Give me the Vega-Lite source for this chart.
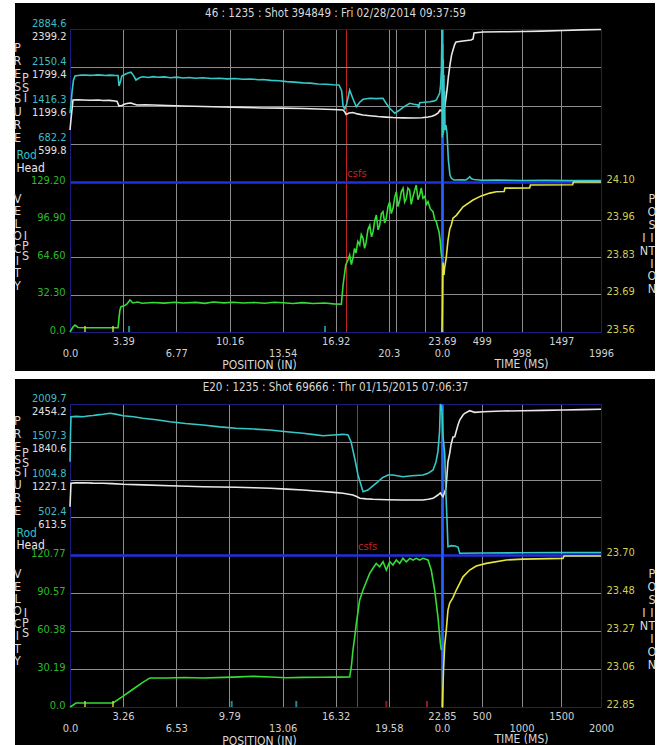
{
  "$schema": "https://vega.github.io/schema/vega-lite/v6.json",
  "background": "white",
  "padding": {"left": 12, "top": 3, "right": 5, "bottom": 0},
  "spacing": 8,
  "config": {
    "view": {"fill": "black", "stroke": null},
    "axis": {"ticks": false, "grid": false, "domain": false, "labels": false,
      "labelFont": "Liberation Sans Narrow, Arial Narrow, DejaVu Sans Condensed, sans-serif", "labelFontSize": 11,
      "labelFlush": false, "labelOverlap": false, "labelBound": false, "labelColor": "#d0d0d0",
      "titleFont": "Liberation Sans Narrow, Arial Narrow, DejaVu Sans Condensed, sans-serif", "titleFontSize": 12,
      "titleFontWeight": "normal", "titleColor": "#d8d8d8", "titleAngle": 0, "titleAlign": "center",
      "titleBaseline": "top", "titlePadding": 0, "gridColor": "#8c8c8c", "gridWidth": 1,
      "domainColor": "#1c1c7e", "domainWidth": 1},
    "text": {"font": "Liberation Sans Narrow, Arial Narrow, DejaVu Sans Condensed, sans-serif"}
  },
  "datasets": {
    "t_head_pos": [{"pos":0,"psi":815},{"pos":0.06,"psi":972},{"pos":0.19,"psi":1286},{"pos":0.5,"psi":1290},{"pos":0.83,"psi":1286},{"pos":1.3,"psi":1282},{"pos":1.8,"psi":1286},{"pos":2.1,"psi":1278},{"pos":2.5,"psi":1280},{"pos":2.87,"psi":1270},{"pos":3.0,"psi":1262},{"pos":3.12,"psi":1192},{"pos":3.3,"psi":1200},{"pos":3.5,"psi":1223},{"pos":3.7,"psi":1235},{"pos":3.89,"psi":1239},{"pos":4.05,"psi":1225},{"pos":4.27,"psi":1207},{"pos":4.8,"psi":1212},{"pos":5.29,"psi":1207},{"pos":6.2,"psi":1200},{"pos":7.2,"psi":1192},{"pos":8.5,"psi":1185},{"pos":9.74,"psi":1176},{"pos":11.0,"psi":1170},{"pos":12.29,"psi":1160},{"pos":13.5,"psi":1158},{"pos":14.84,"psi":1153},{"pos":15.8,"psi":1145},{"pos":16.75,"psi":1137},{"pos":17.39,"psi":1129},{"pos":17.5,"psi":1100},{"pos":17.58,"psi":1058},{"pos":17.77,"psi":1082},{"pos":18.02,"psi":1090},{"pos":18.3,"psi":1068},{"pos":18.66,"psi":1051},{"pos":19.1,"psi":1040},{"pos":19.62,"psi":1027},{"pos":20.1,"psi":1018},{"pos":20.57,"psi":1011},{"pos":21.2,"psi":1006},{"pos":21.85,"psi":1004},{"pos":22.4,"psi":1008},{"pos":22.8,"psi":1019},{"pos":23.05,"psi":1030},{"pos":23.25,"psi":1051},{"pos":23.45,"psi":1085},{"pos":23.57,"psi":1129},{"pos":23.69,"psi":1113}],
    "t_rod_pos": [{"pos":0,"psi":1267},{"pos":0.08,"psi":1500},{"pos":0.13,"psi":1675},{"pos":0.22,"psi":1900},{"pos":0.32,"psi":1983},{"pos":0.51,"psi":1992},{"pos":0.75,"psi":2000},{"pos":1.0,"psi":2002},{"pos":1.25,"psi":1994},{"pos":1.5,"psi":1998},{"pos":1.75,"psi":2004},{"pos":2.0,"psi":2000},{"pos":2.25,"psi":1993},{"pos":2.5,"psi":1999},{"pos":2.8,"psi":1994},{"pos":3.06,"psi":1992},{"pos":3.12,"psi":1790},{"pos":3.2,"psi":1860},{"pos":3.3,"psi":1980},{"pos":3.45,"psi":2005},{"pos":3.65,"psi":2035},{"pos":3.88,"psi":2054},{"pos":4.05,"psi":1990},{"pos":4.2,"psi":1906},{"pos":4.35,"psi":1935},{"pos":4.5,"psi":1960},{"pos":4.65,"psi":1969},{"pos":5.0,"psi":1955},{"pos":5.3,"psi":1970},{"pos":5.6,"psi":1958},{"pos":6.0,"psi":1965},{"pos":6.4,"psi":1950},{"pos":6.8,"psi":1960},{"pos":7.2,"psi":1945},{"pos":7.6,"psi":1955},{"pos":8.0,"psi":1940},{"pos":8.47,"psi":1950},{"pos":9.0,"psi":1935},{"pos":9.5,"psi":1940},{"pos":10.0,"psi":1928},{"pos":10.5,"psi":1935},{"pos":11.0,"psi":1920},{"pos":11.5,"psi":1925},{"pos":12.0,"psi":1912},{"pos":12.29,"psi":1915},{"pos":12.8,"psi":1898},{"pos":13.3,"psi":1890},{"pos":13.8,"psi":1875},{"pos":14.3,"psi":1865},{"pos":14.84,"psi":1850},{"pos":15.3,"psi":1845},{"pos":15.8,"psi":1830},{"pos":16.3,"psi":1825},{"pos":16.75,"psi":1815},{"pos":17.13,"psi":1810},{"pos":17.3,"psi":1700},{"pos":17.39,"psi":1400},{"pos":17.5,"psi":1349},{"pos":17.62,"psi":1450},{"pos":17.81,"psi":1714},{"pos":18.0,"psi":1560},{"pos":18.23,"psi":1393},{"pos":18.45,"psi":1480},{"pos":18.66,"psi":1535},{"pos":19.09,"psi":1555},{"pos":19.5,"psi":1548},{"pos":19.93,"psi":1555},{"pos":20.15,"psi":1450},{"pos":20.36,"psi":1363},{"pos":20.68,"psi":1267},{"pos":20.95,"psi":1320},{"pos":21.21,"psi":1382},{"pos":21.63,"psi":1459},{"pos":21.9,"psi":1440},{"pos":22.16,"psi":1426},{"pos":22.2,"psi":1368},{"pos":22.27,"psi":1470},{"pos":22.6,"psi":1480},{"pos":22.91,"psi":1489},{"pos":23.15,"psi":1500},{"pos":23.33,"psi":1522},{"pos":23.54,"psi":1650},{"pos":23.6,"psi":1800},{"pos":23.65,"psi":2098},{"pos":23.69,"psi":2866}],
    "t_head_time": [{"ms":0,"psi":1113},{"ms":25,"psi":1129},{"ms":38,"psi":1207},{"ms":50,"psi":1320},{"ms":63,"psi":1443},{"ms":80,"psi":1650},{"ms":100,"psi":1835},{"ms":120,"psi":1990},{"ms":138,"psi":2070},{"ms":160,"psi":2160},{"ms":176,"psi":2195},{"ms":264,"psi":2211},{"ms":364,"psi":2227},{"ms":390,"psi":2242},{"ms":402,"psi":2336},{"ms":515,"psi":2352},{"ms":750,"psi":2355},{"ms":1017,"psi":2360},{"ms":1250,"psi":2366},{"ms":1519,"psi":2376},{"ms":1750,"psi":2385},{"ms":1996,"psi":2391}],
    "t_rod_time": [{"ms":0,"psi":2866},{"ms":4,"psi":800},{"ms":8,"psi":2600},{"ms":12,"psi":850},{"ms":16,"psi":2300},{"ms":20,"psi":900},{"ms":24,"psi":2000},{"ms":28,"psi":950},{"ms":33,"psi":1700},{"ms":38,"psi":946},{"ms":50,"psi":1042},{"ms":63,"psi":889},{"ms":80,"psi":370},{"ms":100,"psi":82},{"ms":117,"psi":19},{"ms":150,"psi":-13},{"ms":250,"psi":-10},{"ms":300,"psi":-13},{"ms":330,"psi":20},{"ms":348,"psi":50},{"ms":370,"psi":10},{"ms":400,"psi":-4},{"ms":500,"psi":-19},{"ms":700,"psi":-15},{"ms":1000,"psi":-23},{"ms":1300,"psi":-20},{"ms":1600,"psi":-25},{"ms":1996,"psi":-23}],
    "t_vel": [{"pos":0,"ips":0},{"pos":0.19,"ips":4.3},{"pos":0.32,"ips":6.0},{"pos":0.51,"ips":3.9},{"pos":1.0,"ips":3.7},{"pos":2.0,"ips":3.7},{"pos":3.06,"ips":3.7},{"pos":3.12,"ips":12},{"pos":3.18,"ips":19},{"pos":3.25,"ips":21.8},{"pos":3.45,"ips":22.5},{"pos":3.63,"ips":24.1},{"pos":3.82,"ips":27.6},{"pos":4.01,"ips":25},{"pos":4.3,"ips":25.8},{"pos":4.6,"ips":24.8},{"pos":5.29,"ips":25.4},{"pos":6.0,"ips":24.9},{"pos":6.7,"ips":25.6},{"pos":7.2,"ips":25.0},{"pos":8.0,"ips":25.5},{"pos":8.6,"ips":24.7},{"pos":9.11,"ips":25.8},{"pos":9.8,"ips":25.1},{"pos":10.4,"ips":25.6},{"pos":11.02,"ips":25.0},{"pos":11.7,"ips":25.4},{"pos":12.4,"ips":24.8},{"pos":13.0,"ips":25.6},{"pos":13.56,"ips":25.2},{"pos":14.2,"ips":24.6},{"pos":14.8,"ips":25.3},{"pos":15.48,"ips":24.5},{"pos":16.2,"ips":25.0},{"pos":16.8,"ips":24.2},{"pos":17.28,"ips":23.9},{"pos":17.39,"ips":40.5},{"pos":17.56,"ips":57.7},{"pos":17.7,"ips":62},{"pos":17.81,"ips":66.3},{"pos":17.92,"ips":58},{"pos":18.02,"ips":63.7},{"pos":18.12,"ips":72},{"pos":18.21,"ips":68},{"pos":18.33,"ips":78},{"pos":18.45,"ips":74.9},{"pos":18.55,"ips":84},{"pos":18.66,"ips":80.7},{"pos":18.76,"ips":72},{"pos":18.85,"ips":76.7},{"pos":18.97,"ips":88},{"pos":19.09,"ips":92},{"pos":19.2,"ips":82},{"pos":19.3,"ips":86.4},{"pos":19.41,"ips":96},{"pos":19.51,"ips":100.8},{"pos":19.62,"ips":88},{"pos":19.72,"ips":92},{"pos":19.83,"ips":102},{"pos":19.93,"ips":103.6},{"pos":20.04,"ips":94},{"pos":20.14,"ips":97.9},{"pos":20.25,"ips":108},{"pos":20.36,"ips":112.2},{"pos":20.46,"ips":102},{"pos":20.57,"ips":106.5},{"pos":20.68,"ips":116},{"pos":20.78,"ips":120.8},{"pos":20.89,"ips":108},{"pos":21.0,"ips":113.7},{"pos":21.1,"ips":121},{"pos":21.21,"ips":123.8},{"pos":21.31,"ips":112},{"pos":21.42,"ips":115.2},{"pos":21.52,"ips":124},{"pos":21.63,"ips":122.3},{"pos":21.73,"ips":110},{"pos":21.84,"ips":116.5},{"pos":21.95,"ips":122},{"pos":22.05,"ips":126.6},{"pos":22.16,"ips":114},{"pos":22.27,"ips":118},{"pos":22.37,"ips":124},{"pos":22.48,"ips":115.2},{"pos":22.6,"ips":117},{"pos":22.7,"ips":110},{"pos":22.8,"ips":112.2},{"pos":22.95,"ips":106},{"pos":23.12,"ips":103.6},{"pos":23.22,"ips":97},{"pos":23.33,"ips":95},{"pos":23.42,"ips":90},{"pos":23.5,"ips":86.4},{"pos":23.58,"ips":78},{"pos":23.63,"ips":69.2},{"pos":23.69,"ips":63.5}],
    "t_posn": [{"ms":0,"inch":23.56},{"ms":5,"inch":23.64},{"ms":9,"inch":23.75},{"ms":13,"inch":23.81},{"ms":20,"inch":23.77},{"ms":25,"inch":23.765},{"ms":32,"inch":23.79},{"ms":38,"inch":23.8},{"ms":54,"inch":23.83},{"ms":75,"inch":23.89},{"ms":97,"inch":23.93},{"ms":117,"inch":23.945},{"ms":138,"inch":23.97},{"ms":180,"inch":23.98},{"ms":264,"inch":24.011},{"ms":389,"inch":24.035},{"ms":493,"inch":24.05},{"ms":600,"inch":24.06},{"ms":682,"inch":24.065},{"ms":780,"inch":24.066},{"ms":790,"inch":24.078},{"ms":1100,"inch":24.079},{"ms":1110,"inch":24.089},{"ms":1640,"inch":24.09},{"ms":1650,"inch":24.1},{"ms":1996,"inch":24.1}],
    "t_marks": [{"pos":0.955,"kind":"a"},{"pos":2.74,"kind":"a"},{"pos":3.76,"kind":"b"},{"pos":16.24,"kind":"b"}],
    "t_csfs": [{"pos":17.6,"psi":0,"label":"csfs"}],
    "b_head_pos": [{"pos":0,"psi":785},{"pos":0.06,"psi":1165},{"pos":0.3,"psi":1172},{"pos":0.8,"psi":1175},{"pos":1.4,"psi":1168},{"pos":2.03,"psi":1165},{"pos":2.6,"psi":1160},{"pos":3.26,"psi":1149},{"pos":4.5,"psi":1140},{"pos":6.14,"psi":1126},{"pos":7.2,"psi":1118},{"pos":8.17,"psi":1110},{"pos":9.2,"psi":1105},{"pos":10.2,"psi":1100},{"pos":11.3,"psi":1092},{"pos":12.29,"psi":1084},{"pos":13.3,"psi":1070},{"pos":14.31,"psi":1056},{"pos":14.9,"psi":1045},{"pos":15.54,"psi":1032},{"pos":16.2,"psi":1018},{"pos":16.77,"psi":1003},{"pos":17.38,"psi":975},{"pos":17.6,"psi":950},{"pos":17.81,"psi":921},{"pos":18.2,"psi":912},{"pos":18.61,"psi":905},{"pos":19.5,"psi":898},{"pos":20.45,"psi":894},{"pos":21.1,"psi":893},{"pos":21.68,"psi":894},{"pos":22.0,"psi":905},{"pos":22.3,"psi":921},{"pos":22.6,"psi":975},{"pos":22.75,"psi":1008},{"pos":22.85,"psi":967}],
    "b_rod_pos": [{"pos":0,"psi":1242},{"pos":0.03,"psi":1600},{"pos":0.06,"psi":1841},{"pos":0.4,"psi":1845},{"pos":0.8,"psi":1841},{"pos":1.1,"psi":1850},{"pos":1.41,"psi":1857},{"pos":1.7,"psi":1865},{"pos":2.03,"psi":1873},{"pos":2.46,"psi":1886},{"pos":2.8,"psi":1875},{"pos":3.26,"psi":1854},{"pos":3.9,"psi":1840},{"pos":4.48,"psi":1819},{"pos":5.3,"psi":1800},{"pos":6.14,"psi":1774},{"pos":7.1,"psi":1750},{"pos":8.17,"psi":1730},{"pos":9.2,"psi":1705},{"pos":10.2,"psi":1686},{"pos":11.3,"psi":1676},{"pos":12.29,"psi":1664},{"pos":13.3,"psi":1640},{"pos":14.31,"psi":1620},{"pos":15.0,"psi":1602},{"pos":15.54,"psi":1588},{"pos":16.2,"psi":1598},{"pos":16.77,"psi":1606},{"pos":17.08,"psi":1597},{"pos":17.26,"psi":1508},{"pos":17.51,"psi":1264},{"pos":17.69,"psi":1065},{"pos":18.0,"psi":843},{"pos":18.3,"psi":865},{"pos":18.6,"psi":920},{"pos":18.92,"psi":976},{"pos":19.2,"psi":1030},{"pos":19.53,"psi":1065},{"pos":19.84,"psi":1065},{"pos":20.45,"psi":1042},{"pos":21.0,"psi":1055},{"pos":21.68,"psi":1065},{"pos":21.99,"psi":1087},{"pos":22.3,"psi":1131},{"pos":22.48,"psi":1238},{"pos":22.6,"psi":1375},{"pos":22.7,"psi":1641},{"pos":22.75,"psi":2009},{"pos":22.81,"psi":1970},{"pos":22.85,"psi":1907}],
    "b_head_time": [{"ms":0,"psi":967},{"ms":13,"psi":948},{"ms":50,"psi":1084},{"ms":75,"psi":1516},{"ms":97,"psi":1653},{"ms":113,"psi":1788},{"ms":138,"psi":1918},{"ms":160,"psi":1923},{"ms":201,"psi":2113},{"ms":223,"psi":2194},{"ms":264,"psi":2275},{"ms":286,"psi":2303},{"ms":348,"psi":2345},{"ms":411,"psi":2319},{"ms":516,"psi":2329},{"ms":760,"psi":2340},{"ms":1019,"psi":2345},{"ms":1270,"psi":2350},{"ms":1522,"psi":2356},{"ms":1760,"psi":2362},{"ms":2000,"psi":2368}],
    "b_rod_time": [{"ms":0,"psi":1907},{"ms":13,"psi":1575},{"ms":34,"psi":1354},{"ms":50,"psi":799},{"ms":63,"psi":466},{"ms":75,"psi":110},{"ms":117,"psi":124},{"ms":164,"psi":120},{"ms":201,"psi":106},{"ms":223,"psi":23},{"ms":516,"psi":27},{"ms":1000,"psi":29},{"ms":1434,"psi":31},{"ms":2000,"psi":31}],
    "b_vel": [{"pos":0,"ips":0},{"pos":0.18,"ips":1.4},{"pos":0.37,"ips":3.2},{"pos":1.2,"ips":3.2},{"pos":2.0,"ips":3.2},{"pos":2.64,"ips":3.2},{"pos":3.2,"ips":8},{"pos":3.8,"ips":13.5},{"pos":4.4,"ips":19},{"pos":4.91,"ips":23.1},{"pos":6.0,"ips":23.1},{"pos":7.0,"ips":23.4},{"pos":8.17,"ips":23.1},{"pos":9.5,"ips":23.5},{"pos":10.4,"ips":23.9},{"pos":11.24,"ips":24.4},{"pos":12.3,"ips":23.8},{"pos":13.3,"ips":23.3},{"pos":14.31,"ips":23.5},{"pos":15.5,"ips":23.6},{"pos":16.5,"ips":23.7},{"pos":17.18,"ips":23.9},{"pos":17.28,"ips":31.8},{"pos":17.38,"ips":45.1},{"pos":17.49,"ips":55.7},{"pos":17.59,"ips":66.4},{"pos":17.79,"ips":84.9},{"pos":18.0,"ips":92.9},{"pos":18.2,"ips":99.5},{"pos":18.41,"ips":106.2},{"pos":18.61,"ips":110.2},{"pos":18.81,"ips":114.1},{"pos":19.02,"ips":111.4},{"pos":19.23,"ips":115.4},{"pos":19.43,"ips":108.8},{"pos":19.64,"ips":115.4},{"pos":19.84,"ips":112.8},{"pos":20.04,"ips":116.8},{"pos":20.25,"ips":114.1},{"pos":20.45,"ips":118.1},{"pos":20.66,"ips":115.4},{"pos":20.87,"ips":118.1},{"pos":21.07,"ips":116.8},{"pos":21.27,"ips":118.1},{"pos":21.48,"ips":116.8},{"pos":21.68,"ips":118.1},{"pos":21.99,"ips":116.8},{"pos":22.19,"ips":108.8},{"pos":22.4,"ips":92.9},{"pos":22.6,"ips":71.6},{"pos":22.75,"ips":50.5},{"pos":22.81,"ips":45.1}],
    "b_posn": [{"ms":0,"inch":22.85},{"ms":4,"inch":22.85},{"ms":19,"inch":23.056},{"ms":34,"inch":23.196},{"ms":54,"inch":23.28},{"ms":75,"inch":23.392},{"ms":97,"inch":23.431},{"ms":138,"inch":23.462},{"ms":180,"inch":23.504},{"ms":223,"inch":23.541},{"ms":264,"inch":23.578},{"ms":348,"inch":23.616},{"ms":431,"inch":23.638},{"ms":557,"inch":23.653},{"ms":809,"inch":23.672},{"ms":1019,"inch":23.677},{"ms":1522,"inch":23.681},{"ms":1535,"inch":23.694},{"ms":2000,"inch":23.694}],
    "b_marks": [{"pos":0.92,"kind":"a"},{"pos":2.64,"kind":"a"},{"pos":9.93,"kind":"b"},{"pos":13.9,"kind":"b"},{"pos":19.43,"kind":"c"},{"pos":21.93,"kind":"c"}],
    "b_csfs": [{"pos":17.63,"psi":0,"label":"csfs"}]
  },
  "vconcat": [
    {
      "width": 640, "height": 368,
      "resolve": {"scale": {"x": "independent", "y": "independent"}},
      "layer": [
        {
          "data": {"name": "t_head_pos"},
          "mark": {"type": "line", "color": "#e8e8e8", "strokeWidth": 1.6},
          "encoding": {
            "x": {"field": "pos", "type": "quantitative",
              "scale": {"domain": [0, 23.69], "range": [55, 427], "nice": false, "zero": false},
              "axis": {"orient": "top", "offset": -26, "grid": true, "domain": true,
                "values": [0, 3.39, 6.77, 10.16, 13.54, 16.92, 17.6, 20.3, 20.74, 22.59, 23.69],
                "gridColor": {"condition": [{"test": "datum.value == 17.6", "value": "#c02424"}, {"test": "datum.value == 23.69", "value": "#2860ff"}, {"test": "datum.value == 0", "value": "#1c1c7e"}], "value": "#8c8c8c"},
                "gridWidth": {"condition": {"test": "datum.value == 23.69", "value": 2}, "value": 1},
                "title": "46 : 1235 : Shot 394849 : Fri  02/28/2014  09:37:59",
                "titleX": 320, "titleY": -16, "titleBaseline": "middle", "titleFontSize": 11.5}},
            "y": {"field": "psi", "type": "quantitative",
              "scale": {"domain": [0, 2399.2], "range": [179, 26], "nice": false, "zero": false},
              "axis": {"orient": "left", "offset": -55, "grid": true, "domain": true, "labels": true,
                "values": [0, 599.8, 1199.6, 1799.4, 2399.2],
                "labelExpr": "datum.value == 0 ? '' : format(datum.value, '.1f')",
                "labelColor": "#e0e0e0", "labelOffset": 7, "labelPadding": 4,
                "gridColor": {"condition": [{"test": "datum.value == 0", "value": "#2030e0"}, {"test": "datum.value > 2399", "value": "#1c1c7e"}], "value": "#8c8c8c"},
                "gridWidth": {"condition": {"test": "datum.value == 0", "value": 2}, "value": 1},
                "title": ["P","R","E","S","S","U","R","E"], "titleX": -53, "titleY": 38.5, "titleLineHeight": 12.86, "titleFontSize": 12.5}}
          }
        },
        {
          "data": {"name": "t_rod_pos"},
          "mark": {"type": "line", "color": "#36c8c8", "strokeWidth": 1.6},
          "encoding": {
            "x": {"field": "pos", "type": "quantitative",
              "scale": {"domain": [0, 23.69], "range": [55, 427], "nice": false, "zero": false},
              "axis": {"orient": "top", "offset": 0, "title": "Rod", "titleX": 1, "titleY": 151, "titleAlign": "left", "titleBaseline": "middle", "titleColor": "#36c0c8"}},
            "y": {"field": "psi", "type": "quantitative",
              "scale": {"domain": [-51.9, 2884.6], "range": [179, 26], "nice": false, "zero": false},
              "axis": {"orient": "left", "offset": -55, "labels": true,
                "values": [682.2, 1416.3, 2150.4, 2884.6], "format": ".1f",
                "labelColor": "#3cbcc4", "labelOffset": -6, "labelPadding": 4,
                "title": ["P","S","I"], "titleX": -45, "titleY": 68.5, "titleLineHeight": 10, "titleFontSize": 12.5}}
          }
        },
        {
          "data": {"name": "t_head_time"},
          "mark": {"type": "line", "color": "#e8e8e8", "strokeWidth": 1.6},
          "encoding": {
            "x": {"field": "ms", "type": "quantitative",
              "scale": {"domain": [0, 1996], "range": [427, 586], "nice": false, "zero": false},
              "axis": {"orient": "top", "offset": -26, "grid": true, "domain": true,
                "values": [0, 499, 998, 1497, 1996],
                "gridColor": {"condition": [{"test": "datum.value == 0", "value": "#2860ff"}, {"test": "datum.value > 1990", "value": "#1c1c7e"}], "value": "#8c8c8c"},
                "gridWidth": {"condition": {"test": "datum.value == 0", "value": 2}, "value": 1},
                "title": null}},
            "y": {"field": "psi", "type": "quantitative",
              "scale": {"domain": [0, 2399.2], "range": [179, 26], "nice": false, "zero": false},
              "axis": {"orient": "left", "offset": -427, "grid": true, "domain": true, "domainColor": "#2860ff", "domainWidth": 2,
                "values": [0, 599.8, 1199.6, 1799.4, 2399.2],
                "gridColor": {"condition": [{"test": "datum.value == 0", "value": "#2030e0"}, {"test": "datum.value > 2399", "value": "#1c1c7e"}], "value": "#8c8c8c"},
                "gridWidth": {"condition": {"test": "datum.value == 0", "value": 2}, "value": 1},
                "title": null}}
          }
        },
        {
          "data": {"name": "t_rod_time"},
          "mark": {"type": "line", "color": "#36c8c8", "strokeWidth": 1.6},
          "encoding": {
            "x": {"field": "ms", "type": "quantitative",
              "scale": {"domain": [0, 1996], "range": [427, 586], "nice": false, "zero": false},
              "axis": {"orient": "top", "offset": 0, "title": "Head", "titleX": 1, "titleY": 164, "titleAlign": "left", "titleBaseline": "middle", "titleColor": "#e8e8e8"}},
            "y": {"field": "psi", "type": "quantitative",
              "scale": {"domain": [-51.9, 2884.6], "range": [179, 26], "nice": false, "zero": false},
              "axis": {"orient": "right", "offset": -54, "domain": true, "title": null}}
          }
        },
        {
          "data": {"name": "t_vel"},
          "mark": {"type": "line", "color": "#35dc35", "strokeWidth": 1.6},
          "encoding": {
            "x": {"field": "pos", "type": "quantitative",
              "scale": {"domain": [0, 23.69], "range": [55, 427], "nice": false, "zero": false},
              "axis": {"orient": "bottom", "offset": -39, "domain": true, "labels": true,
                "values": [0, 3.39, 6.77, 10.16, 13.54, 16.92, 20.3, 23.69],
                "labelExpr": "datum.value == 0 ? '0.0' : datum.value == 20.3 ? '20.3' : format(datum.value, '.2f')",
                "labelPadding": {"condition": {"test": "indexof([0, 6.77, 13.54, 20.3], datum.value) >= 0", "value": 15}, "value": 3},
                "title": "POSITION (IN)", "titleX": 244, "titleY": 27}},
            "y": {"field": "ips", "type": "quantitative",
              "scale": {"domain": [0, 129.2], "range": [329, 179], "nice": false, "zero": false},
              "axis": {"orient": "left", "offset": -55, "grid": true, "domain": true, "labels": true,
                "values": [0, 32.3, 64.6, 96.9, 129.2],
                "labelExpr": "datum.value == 0 ? '0.0' : format(datum.value, '.2f')",
                "labelColor": "#2cb82c", "labelOffset": -2, "labelPadding": 5,
                "gridColor": {"condition": [{"test": "datum.value == 0", "value": "#1c1c7e"}, {"test": "datum.value > 129", "value": "#2030e0"}], "value": "#8c8c8c"},
                "gridWidth": {"condition": {"test": "datum.value > 129", "value": 2}, "value": 1},
                "title": ["V","E","L","O","C","I","T","Y"], "titleX": -53, "titleY": 189.5, "titleLineHeight": 12.4, "titleFontSize": 12.5}}
          }
        },
        {
          "data": {"name": "t_marks"},
          "mark": {"type": "tick", "orient": "vertical", "size": 6, "thickness": 2, "yOffset": -3},
          "encoding": {
            "x": {"field": "pos", "type": "quantitative",
              "scale": {"domain": [0, 23.69], "range": [55, 427], "nice": false, "zero": false},
              "axis": {"orient": "top", "offset": -179, "grid": true,
                "values": [0, 3.39, 6.77, 10.16, 13.54, 16.92, 17.6, 20.3, 20.74, 22.59, 23.69],
                "gridColor": {"condition": [{"test": "datum.value == 17.6", "value": "#c02424"}, {"test": "datum.value == 23.69", "value": "#2860ff"}, {"test": "datum.value == 0", "value": "#1c1c7e"}], "value": "#8c8c8c"},
                "gridWidth": {"condition": {"test": "datum.value == 23.69", "value": 2}, "value": 1},
                "title": null}},
            "y": {"datum": 0, "type": "quantitative",
              "scale": {"domain": [0, 129.2], "range": [329, 179], "nice": false, "zero": false},
              "axis": {"orient": "left", "offset": 0, "title": ["I","P","S"], "titleX": 10, "titleY": 226.5, "titleLineHeight": 10, "titleFontSize": 12.5}},
            "color": {"field": "kind", "type": "nominal", "scale": {"domain": ["a", "b", "c"], "range": ["#d8d840", "#30c0d0", "#d02030"]}, "legend": null}
          }
        },
        {
          "data": {"name": "t_posn"},
          "mark": {"type": "line", "color": "#e6e640", "strokeWidth": 1.6},
          "encoding": {
            "x": {"field": "ms", "type": "quantitative",
              "scale": {"domain": [0, 1996], "range": [427, 586], "nice": false, "zero": false},
              "axis": {"orient": "bottom", "offset": -39, "domain": true, "labels": true,
                "values": [0, 499, 998, 1497, 1996],
                "labelExpr": "datum.value == 0 ? '0.0' : format(datum.value, 'd')",
                "labelPadding": {"condition": {"test": "indexof([0, 998, 1996], datum.value) >= 0", "value": 15}, "value": 3},
                "title": "TIME (MS)", "titleX": 506, "titleY": 26}},
            "y": {"field": "inch", "type": "quantitative",
              "scale": {"domain": [23.56, 24.1], "range": [329, 179], "nice": false, "zero": false},
              "axis": {"orient": "right", "offset": -54, "domain": true, "labels": true,
                "values": [23.56, 23.695, 23.83, 23.965, 24.1],
                "labelExpr": "format(floor(datum.value * 100 + 0.0001) / 100, '.2f')",
                "labelColor": "#cfcf50", "labelOffset": -3, "labelPadding": 5,
                "title": ["P","O","S","I","T","I","O","N"], "titleX": 50.5, "titleY": 189.5, "titleLineHeight": 12.9, "titleFontSize": 12.5}}
          }
        },
        {
          "data": {"name": "t_posn"},
          "mark": {"type": "line", "color": "#e6e640", "opacity": 0},
          "encoding": {
            "x": {"field": "ms", "type": "quantitative",
              "scale": {"domain": [0, 1996], "range": [427, 586], "nice": false, "zero": false},
              "axis": {"orient": "top", "offset": -179, "grid": true,
                "values": [0, 499, 998, 1497, 1996],
                "gridColor": {"condition": [{"test": "datum.value == 0", "value": "#2860ff"}, {"test": "datum.value > 1990", "value": "#1c1c7e"}], "value": "#8c8c8c"},
                "gridWidth": {"condition": {"test": "datum.value == 0", "value": 2}, "value": 1},
                "title": null}},
            "y": {"field": "inch", "type": "quantitative",
              "scale": {"domain": [23.56, 24.1], "range": [329, 179], "nice": false, "zero": false},
              "axis": {"orient": "left", "offset": -427, "grid": true, "domain": true, "domainColor": "#2860ff", "domainWidth": 2,
                "values": [23.56, 23.695, 23.83, 23.965, 24.1],
                "gridColor": {"condition": [{"test": "datum.value < 23.57", "value": "#1c1c7e"}, {"test": "datum.value > 24.09", "value": "#2030e0"}], "value": "#8c8c8c"},
                "gridWidth": {"condition": {"test": "datum.value > 24.09", "value": 2}, "value": 1},
                "title": null}}
          }
        },
        {
          "data": {"name": "t_csfs"},
          "mark": {"type": "text", "color": "#c02424", "align": "left", "baseline": "bottom", "dx": 1, "dy": -3, "fontSize": 11},
          "encoding": {
            "x": {"field": "pos", "type": "quantitative",
              "scale": {"domain": [0, 23.69], "range": [55, 427], "nice": false, "zero": false},
              "axis": {"orient": "top", "offset": 0, "title": ["I","N"], "titleX": 628.5, "titleY": 228.5, "titleLineHeight": 13, "titleFontSize": 12.5}},
            "y": {"field": "psi", "type": "quantitative",
              "scale": {"domain": [0, 2399.2], "range": [179, 26], "nice": false, "zero": false}, "axis": null},
            "text": {"field": "label"}
          }
        }
      ]
    },
    {
      "width": 640, "height": 366,
      "resolve": {"scale": {"x": "independent", "y": "independent"}},
      "layer": [
        {
          "data": {"name": "b_head_pos"},
          "mark": {"type": "line", "color": "#e8e8e8", "strokeWidth": 1.6},
          "encoding": {
            "x": {"field": "pos", "type": "quantitative",
              "scale": {"domain": [0, 22.85], "range": [55, 427], "nice": false, "zero": false},
              "axis": {"orient": "top", "offset": -25, "grid": true, "domain": true,
                "values": [0, 3.26, 6.53, 9.79, 13.06, 16.32, 17.63, 19.58, 22.85],
                "gridColor": {"condition": [{"test": "datum.value == 17.63", "value": "#c02424"}, {"test": "datum.value == 22.85", "value": "#2860ff"}, {"test": "datum.value == 0", "value": "#1c1c7e"}], "value": "#8c8c8c"},
                "gridWidth": {"condition": {"test": "datum.value == 22.85", "value": 2}, "value": 1},
                "title": "E20 : 1235 : Shot 69666 : Thr  01/15/2015  07:06:37",
                "titleX": 320, "titleY": -16.7, "titleBaseline": "middle", "titleFontSize": 11.5}},
            "y": {"field": "psi", "type": "quantitative",
              "scale": {"domain": [0, 2454.2], "range": [176, 25], "nice": false, "zero": false},
              "axis": {"orient": "left", "offset": -55, "grid": true, "domain": true, "labels": true,
                "values": [0, 613.5, 1227.1, 1840.6, 2454.2],
                "labelExpr": "datum.value == 0 ? '' : format(datum.value, '.1f')",
                "labelColor": "#e0e0e0", "labelOffset": 7, "labelPadding": 4,
                "gridColor": {"condition": [{"test": "datum.value == 0", "value": "#2030e0"}, {"test": "datum.value > 2454", "value": "#1c1c7e"}], "value": "#8c8c8c"},
                "gridWidth": {"condition": {"test": "datum.value == 0", "value": 2}, "value": 1},
                "title": ["P","R","E","S","S","U","R","E"], "titleX": -53, "titleY": 35.5, "titleLineHeight": 12.86, "titleFontSize": 12.5}}
          }
        },
        {
          "data": {"name": "b_rod_pos"},
          "mark": {"type": "line", "color": "#36c8c8", "strokeWidth": 1.6},
          "encoding": {
            "x": {"field": "pos", "type": "quantitative",
              "scale": {"domain": [0, 22.85], "range": [55, 427], "nice": false, "zero": false},
              "axis": {"orient": "top", "offset": 0, "title": "Rod", "titleX": 1, "titleY": 153, "titleAlign": "left", "titleBaseline": "middle", "titleColor": "#36c0c8"}},
            "y": {"field": "psi", "type": "quantitative",
              "scale": {"domain": [0, 2009.7], "range": [176, 25], "nice": false, "zero": false},
              "axis": {"orient": "left", "offset": -55, "labels": true,
                "values": [502.4, 1004.8, 1507.3, 2009.7], "format": ".1f",
                "labelColor": "#3cbcc4", "labelOffset": -6, "labelPadding": 4,
                "title": ["P","S","I"], "titleX": -45, "titleY": 67, "titleLineHeight": 10, "titleFontSize": 12.5}}
          }
        },
        {
          "data": {"name": "b_head_time"},
          "mark": {"type": "line", "color": "#e8e8e8", "strokeWidth": 1.6},
          "encoding": {
            "x": {"field": "ms", "type": "quantitative",
              "scale": {"domain": [0, 2000], "range": [427, 586], "nice": false, "zero": false},
              "axis": {"orient": "top", "offset": -25, "grid": true, "domain": true,
                "values": [0, 500, 1000, 1500, 2000],
                "gridColor": {"condition": [{"test": "datum.value == 0", "value": "#2860ff"}, {"test": "datum.value > 1990", "value": "#1c1c7e"}], "value": "#8c8c8c"},
                "gridWidth": {"condition": {"test": "datum.value == 0", "value": 2}, "value": 1},
                "title": null}},
            "y": {"field": "psi", "type": "quantitative",
              "scale": {"domain": [0, 2454.2], "range": [176, 25], "nice": false, "zero": false},
              "axis": {"orient": "left", "offset": -427, "grid": true, "domain": true, "domainColor": "#2860ff", "domainWidth": 2,
                "values": [0, 613.5, 1227.1, 1840.6, 2454.2],
                "gridColor": {"condition": [{"test": "datum.value == 0", "value": "#2030e0"}, {"test": "datum.value > 2454", "value": "#1c1c7e"}], "value": "#8c8c8c"},
                "gridWidth": {"condition": {"test": "datum.value == 0", "value": 2}, "value": 1},
                "title": null}}
          }
        },
        {
          "data": {"name": "b_rod_time"},
          "mark": {"type": "line", "color": "#36c8c8", "strokeWidth": 1.6},
          "encoding": {
            "x": {"field": "ms", "type": "quantitative",
              "scale": {"domain": [0, 2000], "range": [427, 586], "nice": false, "zero": false},
              "axis": {"orient": "top", "offset": 0, "title": "Head", "titleX": 1, "titleY": 165, "titleAlign": "left", "titleBaseline": "middle", "titleColor": "#e8e8e8"}},
            "y": {"field": "psi", "type": "quantitative",
              "scale": {"domain": [0, 2009.7], "range": [176, 25], "nice": false, "zero": false},
              "axis": {"orient": "right", "offset": -54, "domain": true, "title": null}}
          }
        },
        {
          "data": {"name": "b_vel"},
          "mark": {"type": "line", "color": "#35dc35", "strokeWidth": 1.6},
          "encoding": {
            "x": {"field": "pos", "type": "quantitative",
              "scale": {"domain": [0, 22.85], "range": [55, 427], "nice": false, "zero": false},
              "axis": {"orient": "bottom", "offset": -38, "domain": true, "labels": true,
                "values": [0, 3.26, 6.53, 9.79, 13.06, 16.32, 19.58, 22.85],
                "labelExpr": "datum.value == 0 ? '0.0' : format(datum.value, '.2f')",
                "labelPadding": {"condition": {"test": "indexof([0, 6.53, 13.06, 19.58], datum.value) >= 0", "value": 15.5}, "value": 3},
                "title": "POSITION (IN)", "titleX": 244, "titleY": 28}},
            "y": {"field": "ips", "type": "quantitative",
              "scale": {"domain": [0, 120.77], "range": [328, 176], "nice": false, "zero": false},
              "axis": {"orient": "left", "offset": -55, "grid": true, "domain": true, "labels": true,
                "values": [0, 30.19, 60.38, 90.57, 120.77],
                "labelExpr": "datum.value == 0 ? '0.0' : format(datum.value, '.2f')",
                "labelColor": "#2cb82c", "labelOffset": -2, "labelPadding": 5,
                "gridColor": {"condition": [{"test": "datum.value == 0", "value": "#1c1c7e"}, {"test": "datum.value > 120", "value": "#2030e0"}], "value": "#8c8c8c"},
                "gridWidth": {"condition": {"test": "datum.value > 120", "value": 2}, "value": 1},
                "title": ["V","E","L","O","C","I","T","Y"], "titleX": -53, "titleY": 188.8, "titleLineHeight": 12.4, "titleFontSize": 12.5}}
          }
        },
        {
          "data": {"name": "b_marks"},
          "mark": {"type": "tick", "orient": "vertical", "size": 6, "thickness": 2, "yOffset": -3},
          "encoding": {
            "x": {"field": "pos", "type": "quantitative",
              "scale": {"domain": [0, 22.85], "range": [55, 427], "nice": false, "zero": false},
              "axis": {"orient": "top", "offset": -176, "grid": true,
                "values": [0, 3.26, 6.53, 9.79, 13.06, 16.32, 17.63, 19.58, 22.85],
                "gridColor": {"condition": [{"test": "datum.value == 17.63", "value": "#c02424"}, {"test": "datum.value == 22.85", "value": "#2860ff"}, {"test": "datum.value == 0", "value": "#1c1c7e"}], "value": "#8c8c8c"},
                "gridWidth": {"condition": {"test": "datum.value == 22.85", "value": 2}, "value": 1},
                "title": null}},
            "y": {"datum": 0, "type": "quantitative",
              "scale": {"domain": [0, 120.77], "range": [328, 176], "nice": false, "zero": false},
              "axis": {"orient": "left", "offset": 0, "title": ["I","P","S"], "titleX": 10, "titleY": 227.2, "titleLineHeight": 10, "titleFontSize": 12.5}},
            "color": {"field": "kind", "type": "nominal", "scale": {"domain": ["a", "b", "c"], "range": ["#d8d840", "#30c0d0", "#d02030"]}, "legend": null}
          }
        },
        {
          "data": {"name": "b_posn"},
          "mark": {"type": "line", "color": "#e6e640", "strokeWidth": 1.6},
          "encoding": {
            "x": {"field": "ms", "type": "quantitative",
              "scale": {"domain": [0, 2000], "range": [427, 586], "nice": false, "zero": false},
              "axis": {"orient": "bottom", "offset": -38, "domain": true, "labels": true,
                "values": [0, 500, 1000, 1500, 2000],
                "labelExpr": "datum.value == 0 ? '0.0' : format(datum.value, 'd')",
                "labelPadding": {"condition": {"test": "indexof([0, 1000, 2000], datum.value) >= 0", "value": 15.5}, "value": 3},
                "title": "TIME (MS)", "titleX": 506, "titleY": 26.5}},
            "y": {"field": "inch", "type": "quantitative",
              "scale": {"domain": [22.85, 23.7], "range": [328, 176], "nice": false, "zero": false},
              "axis": {"orient": "right", "offset": -54, "domain": true, "labels": true,
                "values": [22.85, 23.0625, 23.275, 23.4875, 23.7],
                "labelExpr": "format(floor(datum.value * 100 + 0.0001) / 100, '.2f')",
                "labelColor": "#cfcf50", "labelOffset": -3, "labelPadding": 5,
                "title": ["P","O","S","I","T","I","O","N"], "titleX": 50.5, "titleY": 188.8, "titleLineHeight": 12.9, "titleFontSize": 12.5}}
          }
        },
        {
          "data": {"name": "b_posn"},
          "mark": {"type": "line", "color": "#e6e640", "opacity": 0},
          "encoding": {
            "x": {"field": "ms", "type": "quantitative",
              "scale": {"domain": [0, 2000], "range": [427, 586], "nice": false, "zero": false},
              "axis": {"orient": "top", "offset": -176, "grid": true,
                "values": [0, 500, 1000, 1500, 2000],
                "gridColor": {"condition": [{"test": "datum.value == 0", "value": "#2860ff"}, {"test": "datum.value > 1990", "value": "#1c1c7e"}], "value": "#8c8c8c"},
                "gridWidth": {"condition": {"test": "datum.value == 0", "value": 2}, "value": 1},
                "title": null}},
            "y": {"field": "inch", "type": "quantitative",
              "scale": {"domain": [22.85, 23.7], "range": [328, 176], "nice": false, "zero": false},
              "axis": {"orient": "left", "offset": -427, "grid": true, "domain": true, "domainColor": "#2860ff", "domainWidth": 2,
                "values": [22.85, 23.0625, 23.275, 23.4875, 23.7],
                "gridColor": {"condition": [{"test": "datum.value < 22.86", "value": "#1c1c7e"}, {"test": "datum.value > 23.69", "value": "#2030e0"}], "value": "#8c8c8c"},
                "gridWidth": {"condition": {"test": "datum.value > 23.69", "value": 2}, "value": 1},
                "title": null}}
          }
        },
        {
          "data": {"name": "b_csfs"},
          "mark": {"type": "text", "color": "#c02424", "align": "left", "baseline": "bottom", "dx": 1, "dy": -3, "fontSize": 11},
          "encoding": {
            "x": {"field": "pos", "type": "quantitative",
              "scale": {"domain": [0, 22.85], "range": [55, 427], "nice": false, "zero": false},
              "axis": {"orient": "top", "offset": 0, "title": ["I","N"], "titleX": 628.5, "titleY": 227.2, "titleLineHeight": 13, "titleFontSize": 12.5}},
            "y": {"field": "psi", "type": "quantitative",
              "scale": {"domain": [0, 2454.2], "range": [176, 25], "nice": false, "zero": false}, "axis": null},
            "text": {"field": "label"}
          }
        }
      ]
    }
  ]
}
